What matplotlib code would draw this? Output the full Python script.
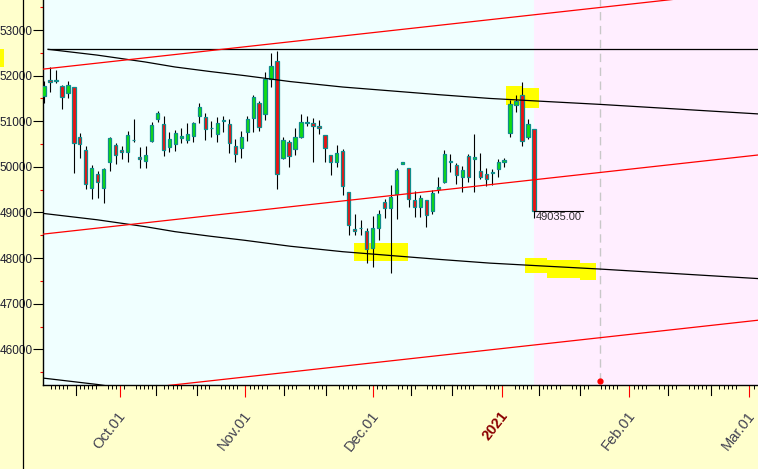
import numpy as np
import pandas as pd
import matplotlib
matplotlib.use("Agg")
import matplotlib.pyplot as plt
import matplotlib.transforms as mtransforms
from matplotlib.patches import Rectangle, Polygon
from matplotlib.lines import Line2D

plt.rcParams['font.family'] = ['Liberation Sans', 'DejaVu Sans']

# ---------------- data (one candle per trading session) ----------------
opens = [51560, 51904, 51875, 51772, 51626, 51744, 50655, 50370, 49530, 49844,
         49530, 50113, 50479, 50370, 50332, 50590, 50216, 50128, 50573, 51043,
         50933, 50442, 50495, 50639, 50582, 50683, 51121, 51086, 50860, 50714,
         51012, 50933, 50457, 50407, 50758, 51064, 51393, 51152, 51926, 52314,
         50188, 50552, 50385, 50661, 50968, 50955, 50896, 50698, 50260, 50113,
         50348, 49449, 48638, 48660, 48594, 48228, 48653, 49223, 49092, 49405,
         50069, 49968, 49274, 49127, 49274, 49032, 49521, 49679, 50113, 50041,
         49784, 50238, 50172, 49909, 49844, 49865, 49953, 50113, 50749, 51363,
         51575, 50661, 50823]
highs = [51889, 52182, 52123, 51794, 51882, 51750, 50742, 50464, 50041, 49909,
         49968, 50661, 50516, 50457, 50786, 51049, 50435, 50464, 50990, 51231,
         51115, 50758, 50808, 50845, 50955, 50990, 51393, 51174, 51005, 51100,
         51115, 51049, 50611, 50793, 51115, 51575, 51444, 52073, 52489, 52540,
         50648, 50589, 50845, 51159, 51115, 51064, 51027, 50698, 50260, 50479,
         50385, 49449, 48960, 48835, 48666, 48923, 49054, 49296, 49602, 49982,
         50105, 49968, 49471, 49383, 49274, 49493, 49771, 50370, 50282, 50078,
         50019, 50282, 50720, 50297, 49968, 49947, 50172, 50201, 51466, 51575,
         51867, 51049, 50823]
lows = [51406, 51634, 51832, 51262, 51516, 49872, 50201, 49508, 49302, 49324,
        49214, 49916, 50063, 50179, 50113, 50538, 49968, 49968, 50538, 50990,
        50245, 50332, 50354, 50530, 50516, 50552, 50968, 50582, 50661, 50538,
        50764, 50310, 50113, 50205, 50573, 50758, 50793, 51027, 51757, 49521,
        50166, 50004, 50260, 50639, 50896, 50113, 50720, 50113, 49822, 50004,
        49383, 48502, 48506, 48506, 47886, 47812, 48397, 48886, 47667, 48857,
        50063, 49114, 48908, 48908, 48675, 48960, 49434, 49646, 49894, 49624,
        49456, 49675, 49456, 49727, 49587, 49602, 49771, 49990, 50661, 51209,
        50464, 50611, 48880]
closes = [51772, 51854, 51911, 51525, 51794, 50530, 50495, 49618, 49968, 49662,
          49947, 50633, 50260, 50332, 50692, 50580, 50166, 50260, 50918, 51174,
          50363, 50604, 50736, 50676, 50714, 50955, 51306, 50823, 50850, 50955,
          51027, 50516, 50288, 50648, 51043, 51525, 50867, 51926, 52204, 49837,
          50589, 50245, 50661, 50977, 50990, 50902, 50845, 50407, 50100, 50297,
          49591, 48715, 48588, 48650, 48193, 48653, 48960, 49092, 49333, 49931,
          50100, 49289, 49114, 49311, 48945, 49434, 49552, 50278, 50135, 49822,
          49931, 49784, 50210, 49784, 49740, 49887, 50113, 50150, 51378, 51450,
          50573, 50940, 49035]
last_label = "49035.00"

y_major = [46000, 47000, 48000, 49000, 50000, 51000, 52000, 53000]
y_minor = [45500, 46500, 47500, 48500, 49500, 50500, 51500, 52500, 53500]

month_labels = ["Oct.01", "Nov.01", "Dec.01", "2021", "Feb.01", "Mar.01"]
month_pos = [12.72, 33.68, 55.10, 76.69, 97.94, 118.02]
anchor_dates = ["2020-09-01", "2020-10-01", "2020-11-01", "2020-12-01",
                "2021-01-01", "2021-02-01", "2021-03-01", "2021-04-01"]
anchor_pos = [-7.56, 12.72, 33.68, 55.10, 76.69, 97.94, 118.02, 140.2]

# trend lines (session position, price)
black_x = [-0.2, 0.67, 8.9, 16.9, 21.9, 27.8, 33.6, 41.2, 50.0, 66.3, 74.6, 83.0, 93.0, 119.6]
black_v = [52590, 52577, 52450, 52300, 52190, 52090, 52000, 51870, 51750, 51580, 51500, 51440, 51370, 51160]
black_gap = 3610
red_x = [-0.2, 119.6]
red_top = [52142, 53879]
red_mid = [48525, 50262]
red_low = [44903, 46640]
flat_level = 52577
flat_start = 0.67
future_start = 82
cycle_x = 93.04
cycle_y = 45306

hl1_x = [77.3, 80.2, 80.2, 82.8, 82.8, 80.2, 80.2, 77.3]
hl1_y = [51779, 51779, 51722, 51722, 51297, 51297, 51356, 51356]
hl2_x = [51.9, 60.9, 60.9, 51.9]
hl2_y = [48325, 48325, 47944, 47944]
hl3_x = [80.5, 84.1, 84.1, 89.7, 89.7, 92.4, 92.4, 89.7, 89.7, 84.1, 84.1, 80.5]
hl3_y = [48009, 48009, 47958, 47958, 47893, 47893, 47520, 47520, 47557, 47557, 47667, 47667]

XLIM = (-0.167, 119.48)
YLIM = (45218, 53658)

# ---------------- figure ----------------
W, H = 758, 469
fig = plt.figure(figsize=(W / 100, H / 100), dpi=100, facecolor='#ffffcc')
ax = fig.add_axes([43 / W, 84 / H, 715 / W, 385 / H])
ax.set_facecolor('#f0ffff')

ax.axvspan(future_start, 130, color='#ffeeff', zorder=0.5, lw=0)

for hx, hy in [(hl1_x, hl1_y), (hl2_x, hl2_y), (hl3_x, hl3_y)]:
    ax.add_patch(Polygon(np.column_stack([hx, hy]), closed=True,
                         facecolor='#ffff00', edgecolor='none', zorder=1.5))

# candles
idx = np.arange(len(opens))
w = 0.55
for i, o, h, l, c in zip(idx, opens, highs, lows, closes):
    ax.vlines(i, l, h, color='black', lw=0.8, zorder=3)
    col = '#11dd11' if c >= o else '#ee1111'
    bottom = min(o, c)
    height = max(abs(c - o), 12)
    ax.add_patch(Rectangle((i - w / 2, bottom), w, height, facecolor=col,
                           edgecolor='#0f8c8c', lw=0.9, zorder=4))

# trend lines
bx = np.array(black_x)
bv = np.array(black_v)
ax.plot(bx[1:], bv[1:], color='black', lw=0.9, zorder=5)
ax.plot(bx, bv - black_gap, color='black', lw=0.9, zorder=5)
ax.plot(bx, bv - 2 * black_gap, color='black', lw=0.9, zorder=5)
ax.plot([flat_start, 125], [flat_level, flat_level], color='black', lw=0.9, zorder=5)
for rv in (red_top, red_mid, red_low):
    ax.plot(red_x, rv, color='#ff0000', lw=0.9, zorder=5)

# cycle marker
ax.plot([cycle_x, cycle_x], [cycle_y, 54000], color='#c8c8c8', lw=1,
        dashes=(6, 4), zorder=2)
ax.plot([cycle_x], [cycle_y], 'o', color='#ff0000', ms=3.5, zorder=6, clip_on=False)

# last price annotation
ax.plot([idx[-1], idx[-1] + 8.2], [closes[-1], closes[-1]], color='black', lw=0.8, zorder=6)
ax.text(idx[-1] + 0.25, closes[-1] - 30, last_label, fontsize=8, color='#303030',
        ha='left', va='top', zorder=7)

# spines
for s in ('top', 'right'):
    ax.spines[s].set_visible(False)
for s in ('left', 'bottom'):
    ax.spines[s].set_color('black')
    ax.spines[s].set_linewidth(1.0)

# y axis
ax.set_yticks(y_major)
ax.set_yticklabels([str(v) for v in y_major])
ax.set_yticks(y_minor, minor=True)
ax.tick_params(axis='y', which='major', length=7.2, width=0.8, color='black',
               pad=0.2, labelsize=8.5, labelcolor='#1e1e30')
ax.tick_params(axis='y', which='minor', length=2.3, width=0.8, color='#ff0000')

# x axis ticks
def to_ord(s):
    return pd.Timestamp(s).toordinal()

anc_ord = [to_ord(d) for d in anchor_dates]
days = pd.date_range("2020-09-01", "2021-03-31", freq="D")
small, medium = [], []
for d in days:
    p = float(np.interp(d.toordinal(), anc_ord, anchor_pos))
    if not (XLIM[0] <= p <= XLIM[1]):
        continue
    if d.day == 1:
        continue
    if d.day in (10, 20):
        medium.append(p)
    elif d.weekday() < 5:
        small.append(p)

ax.set_xticks(month_pos)
ax.set_xticklabels([])
ax.set_xticks(small, minor=True)
ax.tick_params(axis='x', which='major', length=8.6, width=0.8, color='#ff0000')
ax.tick_params(axis='x', which='minor', length=2.9, width=0.7, color='black')
xt = ax.get_xaxis_transform()
for p in medium:
    ax.plot([p, p], [0, -9.7 / 385], transform=xt, color='black', lw=0.8,
            clip_on=False, zorder=6)

for p, lab in zip(month_pos, month_labels):
    t = mtransforms.offset_copy(xt, fig=fig, x=3, y=-28, units='dots')
    if lab == "2021":
        ax.text(p, 0, lab, transform=t, rotation=52, rotation_mode='anchor',
                ha='right', va='center', fontsize=10.5, fontweight='bold',
                color='#8b0000', clip_on=False)
    else:
        ax.text(p, 0, lab, transform=t, rotation=52, rotation_mode='anchor',
                ha='right', va='center', fontsize=10.5, color='#404050',
                clip_on=False)

ax.set_xlim(*XLIM)
ax.set_ylim(*YLIM)

# figure decorations
fig.add_artist(Line2D([23.3 / W, 23.3 / W], [0, 1], transform=fig.transFigure,
                      color='black', lw=0.9, zorder=10))
fig.add_artist(Rectangle((0, (H - 67) / H), 4 / W, 18 / H, transform=fig.transFigure,
                         facecolor='#ffff00', edgecolor='none', zorder=10))

fig.savefig("out.png", dpi=100, facecolor=fig.get_facecolor())
